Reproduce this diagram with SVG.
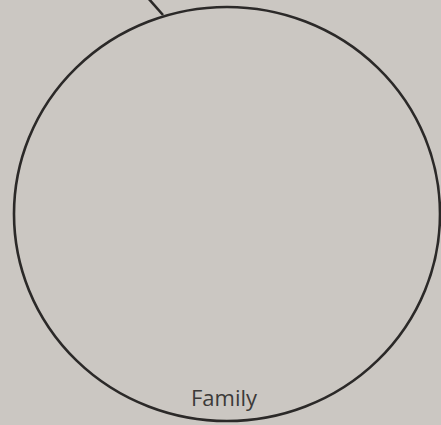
<svg xmlns="http://www.w3.org/2000/svg" width="441" height="425" viewBox="0 0 441 425">
<style>
.shape{fill:none;stroke:#2b2928;stroke-width:2.6}
.lbl{font-family:"Open Sans","Liberation Sans",sans-serif;font-size:22px;fill:#3c3a39;text-anchor:middle}
</style>
<rect width="441" height="425" fill="#cbc7c2"/>
<g id="connectors">
<line class="shape" x1="148" y1="-2" x2="163" y2="15"/>
</g>
<g id="family">
<ellipse class="shape" cx="227" cy="214" rx="213" ry="207"/>
<text class="lbl" x="224" y="406">Family</text>
</g>
</svg>
